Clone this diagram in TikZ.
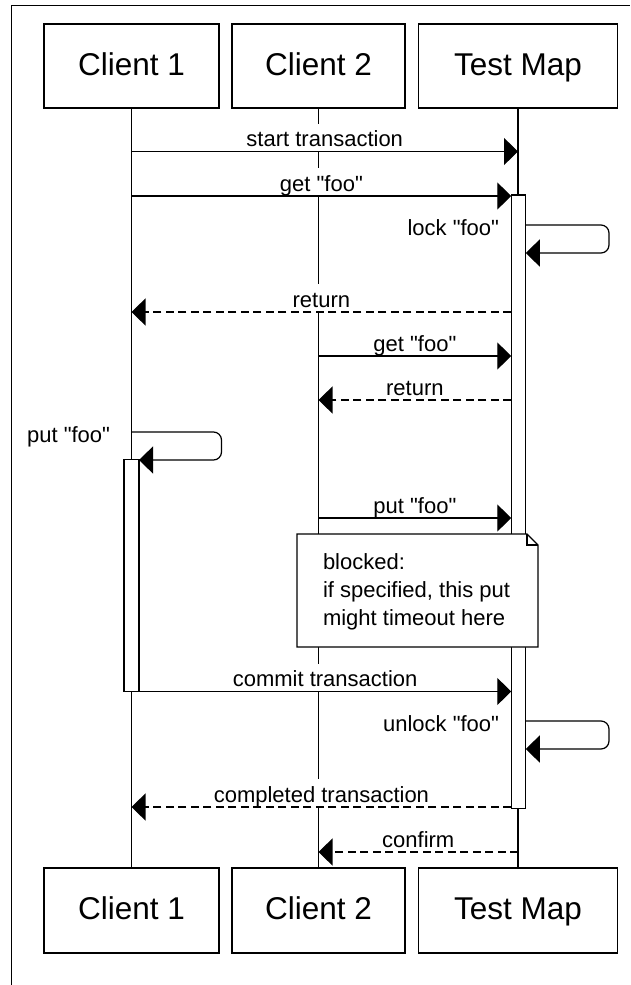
\documentclass[tikz,border=0pt]{standalone}
\usepackage{fontspec}
\setmainfont{Liberation Sans}[Ligatures=TeXOff]
\usetikzlibrary{arrows.meta}
\begin{document}
\begin{tikzpicture}[x=1pt,y=-1pt,
  lw/.style={line width=1.2pt},
  actor/.style={draw, lw, fill=white, minimum height=84pt, inner sep=0pt, outer sep=0pt, text height=28pt, text depth=10pt, font=\fontsize{31.5}{36}\selectfont},
  actbar/.style={draw, lw, fill=white, inner sep=0pt, outer sep=0pt, anchor=north},
  msg/.style={lw, -{Triangle[length=14pt,width=27pt]}},
  ret/.style={msg, dash pattern=on 8pt off 4.5pt},
  selfmsg/.style={msg, rounded corners=8pt},
  lbl/.style={fill=white, inner xsep=2pt, inner ysep=0pt, outer sep=0pt, text height=23pt, text depth=5pt, font=\fontsize{22}{28}\selectfont, anchor=south},
  selflbl/.style={inner sep=0pt, outer sep=0pt, font=\fontsize{22}{28}\selectfont, anchor=base east},
  notetext/.style={inner sep=0pt, outer sep=0pt, align=left, anchor=north west, font=\fontsize{22}{28}\selectfont}
]
\useasboundingbox (0,0) rectangle (630,985);
\fill[white] (0,0) rectangle (630,985);
% outer frame
\draw[lw] (11.5,985) -- (11.5,5.5) -- (630,5.5);

% actors
\node[actor, minimum width=175pt] (c1t) at (131.5,66) {Client 1};
\node[actor, minimum width=173pt] (c2t) at (318.5,66) {Client 2};
\node[actor, minimum width=199pt] (tmt) at (518,66) {Test Map};
\node[actor, minimum width=175pt, minimum height=85pt] (c1b) at (131.5,910.5) {Client 1};
\node[actor, minimum width=173pt, minimum height=85pt] (c2b) at (318.5,910.5) {Client 2};
\node[actor, minimum width=199pt, minimum height=85pt] (tmb) at (518,910.5) {Test Map};

% lifelines
\draw[lw] (c1t.south) -- (c1b.north);
\draw[lw] (c2t.south) -- (c2b.north);
\draw[lw] (tmt.south) -- (tmb.north);

% activation bars
\node[actbar, minimum width=14.5pt, minimum height=613.5pt] (tma) at (518.5,195) {};
\node[actbar, minimum width=15pt, minimum height=232pt] (c1a) at (131.5,459.5) {};

% coordinates
\coordinate (m1a) at (131.5,151.5); \coordinate (m1b) at (518,151.5);
\coordinate (m2a) at (131.5,196);   \coordinate (m2b) at (511.25,196);
\coordinate (s1a) at (525.75,225);  \coordinate (s1c) at (609,225);
\coordinate (s1d) at (609,253);     \coordinate (s1b) at (525.75,253);
\coordinate (m3a) at (511.25,312);  \coordinate (m3b) at (131.5,312);
\coordinate (m4a) at (318.5,356);   \coordinate (m4b) at (511.25,356);
\coordinate (m5a) at (511.25,400);  \coordinate (m5b) at (318.5,400);
\coordinate (s2a) at (131.5,432);   \coordinate (s2c) at (221.5,432);
\coordinate (s2d) at (221.5,460);   \coordinate (s2b) at (139,460);
\coordinate (m6a) at (318.5,518);   \coordinate (m6b) at (511.25,518);
\coordinate (m7a) at (139,691.5);   \coordinate (m7b) at (511.25,691.5);
\coordinate (s3a) at (525.75,721);  \coordinate (s3c) at (609,721);
\coordinate (s3d) at (609,749);     \coordinate (s3b) at (525.75,749);
\coordinate (m8a) at (511.25,807);  \coordinate (m8b) at (131.5,807);
\coordinate (m9a) at (518,852);     \coordinate (m9b) at (318.5,852);

% labels
\node[lbl] (l1) at (324.75,151.5) {start transaction};
\node[lbl] (l2) at (321.4,196) {get "foo"};
\node[selflbl] (l3) at (499,235) {lock "foo"};
\node[lbl] (l4) at (321.4,312) {return};
\node[lbl] (l5) at (414.9,356) {get "foo"};
\node[lbl] (l6) at (414.9,400) {return};
\node[selflbl] (l7) at (110,442) {put "foo"};
\node[lbl] (l8) at (414.9,518) {put "foo"};
\node[lbl] (l9) at (325.1,691.5) {commit transaction};
\node[selflbl] (l10) at (499,731) {unlock "foo"};
\node[lbl] (l11) at (321.4,807) {completed transaction};
\node[lbl] (l12) at (418.25,852) {confirm};

% messages
\draw[msg] (m1a) -- (m1b);
\draw[msg] (m2a) -- (m2b);
\draw[selfmsg] (s1a) -- (s1c) -- (s1d) -- (s1b);
\draw[ret] (m3a) -- (m3b);
\draw[msg] (m4a) -- (m4b);
\draw[ret] (m5a) -- (m5b);
\draw[selfmsg] (s2a) -- (s2c) -- (s2d) -- (s2b);
\draw[msg] (m6a) -- (m6b);
\draw[msg] (m7a) -- (m7b);
\draw[selfmsg] (s3a) -- (s3c) -- (s3d) -- (s3b);
\draw[ret] (m8a) -- (m8b);
\draw[ret] (m9a) -- (m9b);

% note
\draw[lw, fill=white] (297,534) -- (527,534) -- (538,545) -- (538,647) -- (297,647) -- cycle;
\draw[lw] (527,534) -- (527,545) -- (538,545);
\node[notetext] (note) at (323,554) {blocked:\\if specified, this put\\might timeout here};
\end{tikzpicture}
\end{document}
